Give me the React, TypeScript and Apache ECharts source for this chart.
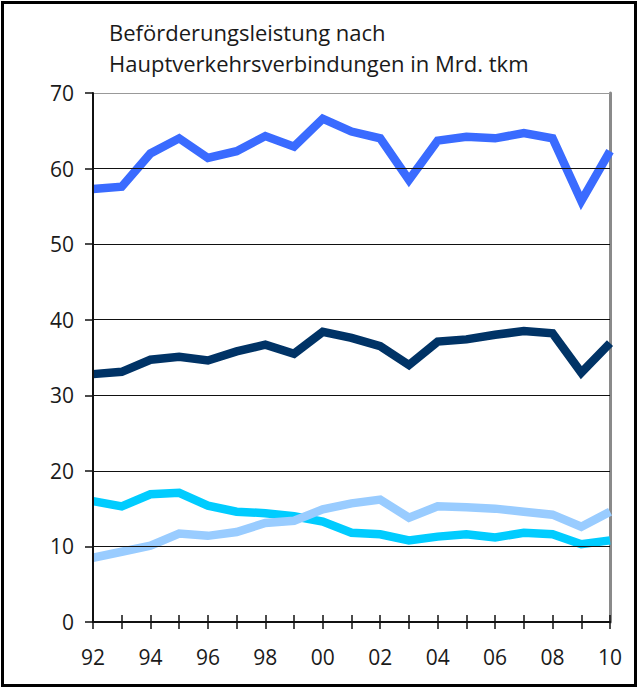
import React, { useEffect, useRef } from "react";
import * as echarts from "echarts";

const years = ["92","93","94","95","96","97","98","99","00","01","02","03","04","05","06","07","08","09","10"];
const seriesBlue = [57.3,57.6,62.0,64.0,61.4,62.3,64.3,62.9,66.6,64.9,64.0,58.5,63.7,64.2,64.0,64.7,64.0,55.7,62.3];
const seriesNavy = [32.8,33.1,34.7,35.1,34.6,35.8,36.7,35.5,38.4,37.6,36.5,34.0,37.1,37.4,38.0,38.5,38.2,33.0,36.9];
const seriesCyan = [16.0,15.3,16.9,17.1,15.4,14.6,14.4,14.0,13.3,11.8,11.6,10.8,11.3,11.6,11.2,11.8,11.6,10.3,10.8];
const seriesLight = [8.5,9.3,10.1,11.7,11.4,11.9,13.1,13.4,14.9,15.7,16.2,13.8,15.3,15.2,15.0,14.6,14.2,12.6,14.6];
const titleText = "Beförderungsleistung nach\nHauptverkehrsverbindungen in Mrd. tkm";

export default function App() {
  const ref = useRef<HTMLDivElement>(null);
  useEffect(() => {
    if (!ref.current) return;
    const chart = echarts.init(ref.current, null, { renderer: "svg" });
    const font = "'Open Sans', sans-serif";
    const mk = (data: number[], color: string, z: number) => ({
      type: "line",
      data,
      symbol: "none",
      z,
      lineStyle: { color, width: 8.5, join: "miter" },
    });
    chart.setOption({
      animation: false,
      backgroundColor: "#fff",
      title: {
        text: titleText,
        left: 104,
        top: 11,
        textStyle: { fontFamily: font, fontSize: 22, fontWeight: "normal", color: "#1a1a1a", lineHeight: 31 },
      },
      graphic: [
        {
          type: "rect",
          shape: { x: 2.5, y: 2.5, width: 633, height: 683 },
          style: { fill: "none", stroke: "#000", lineWidth: 3 },
          z: 100,
        },
      ],
      grid: { left: 93, top: 93, right: 31, bottom: 66, containLabel: false },
      xAxis: [
        {
          type: "category",
          data: years,
          boundaryGap: false,
          axisLine: { show: true, lineStyle: { color: "#111", width: 2 } },
          axisTick: { show: true, length: 7, interval: 0, lineStyle: { color: "#111", width: 1.5 } },
          axisLabel: { interval: 1, margin: 24, fontFamily: font, fontSize: 21, color: "#1a1a1a" },
          splitLine: { show: false },
          z: 10,
        },
        {
          type: "category",
          data: years,
          boundaryGap: false,
          position: "bottom",
          axisLine: { show: false },
          axisTick: { show: true, inside: true, length: 7, interval: 0, lineStyle: { color: "#111", width: 1.5 } },
          axisLabel: { show: false },
          splitLine: { show: false },
        },
      ],
      yAxis: [
        {
          type: "value",
          min: 0,
          max: 70,
          interval: 10,
          axisLine: { show: true, lineStyle: { color: "#111", width: 2 } },
          axisTick: { show: true, length: 8, lineStyle: { color: "#111", width: 1.5 } },
          axisLabel: { margin: 19, fontFamily: font, fontSize: 21, color: "#1a1a1a" },
          splitLine: {
            show: true,
            lineStyle: { color: ["#111","#111","#111","#111","#111","#111","#111","#999"], width: 1.2 },
          },
          z: 10,
        },
        {
          type: "value",
          min: 0,
          max: 70,
          interval: 10,
          position: "right",
          axisLine: { show: true, lineStyle: { color: "#8a8a8a", width: 3 } },
          axisTick: { show: false },
          axisLabel: { show: false },
          splitLine: { show: false },
        },
      ],
      series: [
        mk(seriesBlue, "#3a6bff", 3),
        mk(seriesNavy, "#003366", 3),
        mk(seriesCyan, "#00ccff", 3),
        mk(seriesLight, "#99ccff", 4),
      ],
    });
    return () => chart.dispose();
  }, []);
  return (
    <div
      ref={ref}
      style={{ position: "fixed", left: 0, top: 0, width: 641, height: 688, background: "#fff" }}
    />
  );
}
